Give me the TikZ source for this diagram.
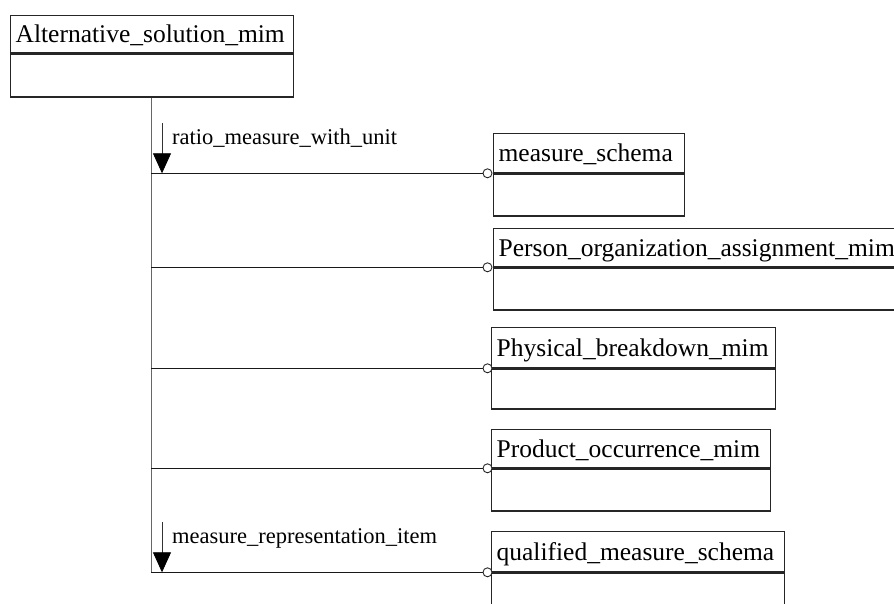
\documentclass[tikz,border=0pt]{standalone}
\usepackage{fontspec}
\setmainfont{Liberation Serif}
\usetikzlibrary{arrows.meta}
\newcommand\umlbox[7]{%
  \pgfmathsetmacro\umltw{#4-10}%
  \node[box, minimum width=#4pt, text width=\umltw pt, minimum height=#5pt] (#1) at (#2,#3) {#7};
  \node[body, minimum width=#4pt, minimum height=#6pt] (#1-b) at (#1.south west) {};
}
\begin{document}
\begin{tikzpicture}[x=1pt,y=-1pt,
  box/.style={draw=black!85, line width=1.3pt, rectangle, anchor=north west, inner xsep=5pt, inner ysep=0pt, align=left, text height=20pt, text depth=3pt, font=\fontsize{25.5}{29}\selectfont},
  body/.style={draw=black!85, line width=1.3pt, rectangle, anchor=north west, inner sep=0pt},
  link/.style={draw=black!90, line width=1.3pt},
  trunk/.style={draw=black!60, line width=1pt},
  ring/.style={circle, draw=black!85, line width=0.9pt, fill=white, minimum size=9pt, inner sep=0pt},
  lab/.style={anchor=base west, inner sep=0pt, font=\fontsize{22.5}{26}\selectfont},
  role/.style={draw=black!80, line width=0.8pt, -{Triangle[length=20pt,width=18pt,color=black]}}
]
\useasboundingbox (0,0) rectangle (894,603);
\clip (0,0) rectangle (894,603);
\fill[white] (0,0) rectangle (894,603);

\umlbox{alt}{10}{15}{283}{37}{43}{Alternative\_solution\_mim}
\umlbox{ms}{493}{133}{191}{39}{42}{measure\_schema}
\umlbox{poa}{493}{228}{415}{38}{42}{Person\_organization\_assignment\_mim}
\umlbox{pb}{491}{327}{284}{40}{40}{Physical\_breakdown\_mim}
\umlbox{po}{491}{429}{279}{38}{42}{Product\_occurrence\_mim}
\umlbox{qms}{491}{531}{293}{40}{80}{qualified\_measure\_schema}

\node[ring] (c1) at ([xshift=-5.5pt]ms.south west) {};
\node[ring] (c2) at ([xshift=-5.5pt]poa.south west) {};
\node[ring] (c3) at ([xshift=-3.5pt]pb.south west) {};
\node[ring] (c4) at ([xshift=-3.5pt]po.south west) {};
\node[ring] (c5) at ([xshift=-3.5pt]qms.south west) {};

\coordinate (t0) at ([xshift=141pt]alt-b.south west);
\draw[trunk] (t0) -- (t0 |- c5);

\draw[link] (c1.west) -- (c1.west -| t0);
\draw[link] (c2.west) -- (c2.west -| t0);
\draw[link] (c3.west) -- (c3.west -| t0);
\draw[link] (c4.west) -- (c4.west -| t0);
\draw[link] (c5.west) -- (c5.west -| t0);

\coordinate (a1) at (162,123);
\coordinate (a2) at (162,522);
\draw[role] (a1) -- (a1 |- c1);
\draw[role] (a2) -- (a2 |- c5);

\node[lab] (l1) at (172,144) {ratio\_measure\_with\_unit};
\node[lab] (l2) at (172,543) {measure\_representation\_item};
\end{tikzpicture}
\end{document}
